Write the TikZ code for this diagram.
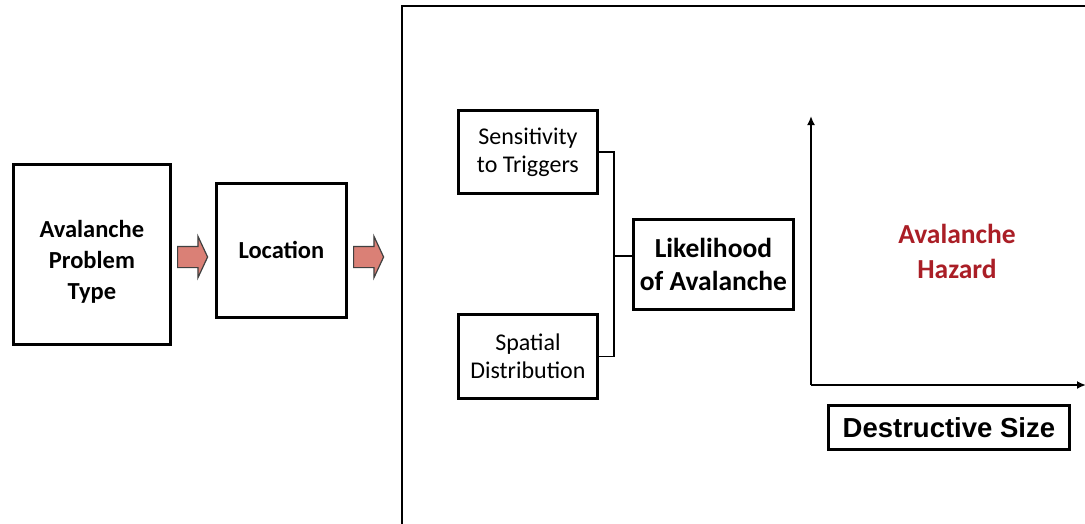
\documentclass[tikz,border=0pt]{standalone}
\usepackage{fontspec}
\setmainfont{Carlito}
\newfontfamily\arialfont{Liberation Sans}
\usepackage{tikz}
\usetikzlibrary{shapes.arrows,arrows.meta}
\definecolor{hazred}{RGB}{170,30,38}
\definecolor{arrowfill}{RGB}{218,128,118}
\tikzstyle{rect} = [rectangle, draw=black, line width=2.8pt, text centered, align=center, anchor=north west, inner sep=0pt]
\tikzstyle{blockarrow} = [single arrow, draw=black!75, fill=arrowfill, line width=1.2pt, minimum height=30pt, inner xsep=0pt, inner ysep=10pt, single arrow head extend=10pt, single arrow tip angle=130, anchor=tail]
\tikzstyle{axis} = [line width=2.6pt, -{Latex[length=9pt,width=8pt]}]

\begin{document}
\begin{tikzpicture}[x=1pt, y=-1pt]
            \clip (0,0) rectangle (1085,523);
            \fill[white] (0,0) rectangle (1085,523);

            \node (ptype) [rect, minimum width=157pt, minimum height=180pt, font=\bfseries\fontsize{24.5}{31}\selectfont] at (12,163) {\rule{0pt}{33pt}Avalanche\\ Problem\\ Type};
            \node (a1) [blockarrow] at (177,257) {};
            \node (loc) [rect, minimum width=130pt, minimum height=134pt, font=\bfseries\fontsize{24.5}{28}\selectfont] at (215,182) {Location};
            \node (a2) [blockarrow] at (353,257) {};

            \draw[line width=2.8pt] (402,6) rectangle (1110,560);

            \node (sens) [rect, minimum width=139pt, minimum height=83pt, font=\fontsize{24}{28}\selectfont] at (457,109) {Sensitivity\\ to Triggers};
            \node (spat) [rect, minimum width=139pt, minimum height=84pt, font=\fontsize{24}{28}\selectfont] at (457,313) {Spatial\\ Distribution};
            \node (like) [rect, minimum width=160pt, minimum height=90pt, font=\bfseries\fontsize{27.5}{33}\selectfont] at (632,218) {Likelihood\\ of Avalanche};

            \coordinate (j) at (614,256);
            \draw[line width=1.5pt] (sens.east) -| (j) |- (spat.east);
            \draw[line width=1.5pt] (j) -- (j -| like.west);

            \coordinate (o) at (811,385);
            \draw[axis] (o) -- (811,116);
            \draw[axis] (o) -- (1086,385);

            \node (haz) [hazred, align=center, font=\bfseries\fontsize{27.5}{35}\selectfont] at (957,251) {Avalanche\\ Hazard};
            \node (size) [rect, minimum width=241pt, minimum height=44pt, font=\arialfont\bfseries\fontsize{27.5}{30}\selectfont] at (827,404) {Destructive Size};
        \end{tikzpicture}
\end{document}
